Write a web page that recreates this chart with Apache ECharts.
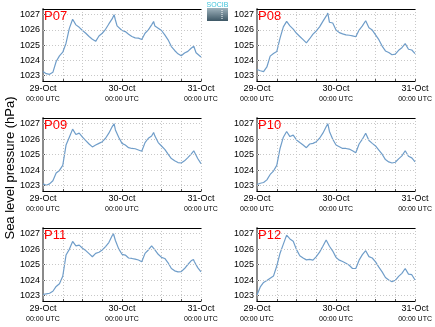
<!DOCTYPE html>
<html><head><meta charset="utf-8">
<script src="https://cdn.jsdelivr.net/npm/echarts@6/dist/echarts.min.js"></script>
<style>html,body{margin:0;padding:0;background:#fff}#c{width:435px;height:327px}</style>
</head><body><div id="c"></div>
<script>
// [hours since 29-Oct 00:00 UTC, sea level pressure hPa]
const P07 = [[0,1023.28],[1,1023.13],[2,1023.09],[3,1023.22],[4,1023.93],[5,1024.3],[6,1024.54],[7,1025.13],[8,1026.1],[9,1026.7],[9.4,1026.78],[10,1026.33],[11,1026.17],[12,1025.96],[13,1025.78],[14,1025.57],[15,1025.39],[16,1025.25],[17,1025.6],[18,1025.78],[19,1026.04],[20,1026.39],[21,1026.72],[21.6,1027.0],[22,1026.65],[22.5,1026.26],[23,1026.35],[24,1025.96],[25,1025.89],[26,1025.72],[27,1025.57],[28,1025.48],[29,1025.46],[30,1025.37],[30.5,1025.33],[31,1025.78],[32,1026.0],[33,1026.33],[33.6,1026.55],[34,1026.25],[35,1026.11],[36,1025.96],[37,1025.67],[38,1025.35],[39,1024.91],[40,1024.65],[41,1024.43],[42,1024.3],[43,1024.48],[44,1024.59],[45,1024.8],[45.8,1024.93],[46,1024.85],[46.5,1024.5],[47,1024.48],[48,1024.22]];
const P08 = [[0,1023.4],[1,1023.32],[2,1023.27],[3,1023.57],[4,1024.28],[5,1024.45],[6,1024.58],[7,1025.46],[8,1026.2],[9,1026.56],[9.4,1026.68],[10,1026.26],[11,1026.05],[12,1025.78],[13,1025.57],[14,1025.36],[15,1025.15],[15.4,1025.08],[16,1025.42],[17,1025.72],[18,1025.93],[19,1026.2],[20,1026.56],[21,1026.9],[21.5,1027.1],[22,1026.5],[23,1026.45],[24,1025.99],[25,1025.82],[26,1025.74],[27,1025.67],[28,1025.65],[29,1025.61],[30,1025.55],[30.5,1025.5],[31,1025.99],[32,1026.26],[33,1026.6],[34,1026.14],[35,1025.99],[36,1025.67],[37,1025.36],[38,1024.94],[39,1024.62],[40,1024.52],[41,1024.37],[42,1024.41],[43,1024.66],[44,1024.83],[45,1025.1],[45.4,1025.22],[46,1024.73],[47,1024.68],[48,1024.45]];
const P09 = [[0,1023.11],[1,1023.02],[2,1023.11],[3,1023.31],[4,1023.81],[5,1023.98],[6,1024.31],[7,1025.62],[8,1026.13],[9,1026.65],[9.2,1026.72],[10,1026.3],[11,1026.39],[12,1026.13],[13,1025.91],[14,1025.69],[15,1025.5],[15.5,1025.4],[16,1025.62],[17,1025.73],[18,1025.84],[19,1026.06],[20,1026.39],[21,1026.8],[21.6,1027.0],[22,1026.6],[23,1026.13],[24,1025.73],[25,1025.62],[26,1025.45],[27,1025.4],[28,1025.38],[29,1025.3],[30,1025.22],[30.5,1025.19],[31,1025.78],[32,1026.06],[33,1026.21],[33.6,1026.43],[34,1026.2],[35,1025.78],[36,1025.56],[37,1025.34],[38,1025.03],[39,1024.75],[40,1024.6],[41,1024.49],[42,1024.46],[43,1024.6],[44,1024.81],[45,1025.03],[45.8,1025.25],[46,1025.15],[47,1024.75],[48,1024.42]];
const P10 = [[0,1023.07],[1,1023.15],[2,1023.2],[3,1023.37],[4,1023.72],[5,1023.94],[6,1024.31],[7,1025.4],[8,1026.13],[9,1026.5],[9.4,1026.6],[10,1026.17],[11,1026.26],[12,1025.95],[13,1025.78],[14,1025.62],[15,1025.45],[15.4,1025.4],[16,1025.69],[17,1025.73],[18,1025.84],[19,1026.06],[20,1026.39],[21,1026.8],[21.5,1027.0],[22,1026.5],[23,1026.0],[24,1025.62],[25,1025.51],[26,1025.4],[27,1025.4],[28,1025.36],[29,1025.25],[30,1025.12],[31,1025.69],[32,1026.0],[33,1026.38],[34,1025.91],[35,1025.73],[36,1025.56],[37,1025.3],[38,1025.03],[39,1024.68],[40,1024.53],[41,1024.46],[42,1024.51],[43,1024.73],[44,1024.92],[45,1025.25],[45.3,1025.34],[46,1024.9],[47,1024.79],[48,1024.53]];
const P11 = [[0,1023.07],[1,1023.11],[2,1023.15],[3,1023.28],[4,1023.59],[5,1023.77],[6,1024.25],[7,1025.62],[8,1025.99],[9,1026.5],[9.2,1026.56],[10,1026.21],[11,1026.26],[12,1026.06],[13,1025.91],[14,1025.71],[15,1025.51],[16,1025.73],[17,1025.8],[18,1025.95],[19,1026.17],[20,1026.43],[21,1026.87],[21.4,1027.0],[22,1026.56],[23,1026.02],[24,1025.67],[25,1025.62],[26,1025.43],[27,1025.4],[28,1025.36],[29,1025.3],[30,1025.19],[31,1025.73],[32,1025.95],[33,1026.21],[33.5,1026.3],[34,1025.95],[35,1025.67],[36,1025.47],[37,1025.4],[38,1025.12],[39,1024.75],[40,1024.6],[41,1024.53],[42,1024.55],[43,1024.75],[44,1025.01],[45,1025.25],[45.7,1025.34],[46,1025.19],[47,1024.81],[48,1024.53]];
const P12 = [[0,1023.04],[1,1023.56],[2,1023.85],[3,1023.97],[4,1024.12],[5,1024.26],[6,1024.91],[7,1025.74],[8,1026.33],[9,1026.91],[9.2,1027.0],[10,1026.66],[11,1026.51],[12,1025.97],[13,1025.58],[14,1025.43],[15,1025.31],[16,1025.34],[17,1025.29],[18,1025.52],[19,1025.81],[20,1026.19],[21,1026.6],[21.3,1026.71],[22,1026.19],[23,1025.88],[24,1025.47],[25,1025.29],[26,1025.2],[27,1025.09],[28,1024.96],[29,1024.75],[30,1024.75],[31,1025.29],[32,1025.65],[33,1025.9],[34,1025.52],[35,1025.43],[36,1025.18],[37,1024.84],[38,1024.53],[39,1024.17],[40,1024.01],[41,1023.9],[42,1023.99],[43,1024.24],[44,1024.44],[45,1024.75],[45.3,1024.8],[46,1024.39],[47,1024.35],[48,1024.01]];

const panelNames = ['P07','P08','P09','P10','P11','P12'];
const panelData = [P07,P08,P09,P10,P11,P12];
const yTicks = [1023,1024,1025,1026,1027];
const xLabelHours = [0,24,48];
const xDayLabels = ['29-Oct','30-Oct','31-Oct'];
const xTimeLabel = '00:00 UTC';
const yTitle = 'Sea level pressure (hPa)';

const FONT = 'Liberation Sans, Arial, sans-serif';
const lefts = [43, 257], widths = [158, 159];
const tops = [9, 118, 228], heights = [72, 73, 73];
const YMIN = 1022.65, YMAX = 1027.37;

const grid = [], xAxis = [], yAxis = [], series = [], title = [];
panelNames.forEach((name, i) => {
  const c = i % 2, r = Math.floor(i / 2);
  grid.push({left: lefts[c], top: tops[r], width: widths[c], height: heights[r], show: false});
  xAxis.push({
    type: 'value', gridIndex: i, min: 0, max: 48, interval: 6,
    axisLine: {show: true, lineStyle: {color: '#000', width: 1}},
    axisTick: {show: true, inside: true, length: 2, lineStyle: {color: '#555'}},
    splitLine: {show: true, lineStyle: {color: '#c8c8c8', type: [1, 2], width: 1}},
    axisLabel: {
      show: true, margin: 3, fontFamily: FONT, color: '#000',
      showMinLabel: true, showMaxLabel: true,
      formatter: v => {
        const k = xLabelHours.indexOf(v);
        return k < 0 ? '' : '{a|' + xDayLabels[k] + '}\n{b|' + xTimeLabel + '}';
      },
      rich: {
        a: {fontSize: 9, lineHeight: 10, fontFamily: FONT, color: '#000'},
        b: {fontSize: 7, lineHeight: 10, fontFamily: FONT, color: '#000'}
      }
    }
  });
  xAxis.push({
    type: 'value', gridIndex: i, min: 0, max: 48, position: 'top',
    axisLine: {show: true, lineStyle: {color: '#000', width: 1}},
    axisTick: {show: false}, axisLabel: {show: false}, splitLine: {show: false}
  });
  yAxis.push({
    type: 'value', gridIndex: i, min: YMIN, max: YMAX,
    axisLine: {show: true, lineStyle: {color: '#000', width: 1}},
    axisTick: {show: true, inside: true, length: 2, customValues: yTicks, lineStyle: {color: '#555'}},
    splitLine: {show: false},
    axisLabel: {show: true, margin: 3, fontSize: 9, fontFamily: FONT, color: '#000', customValues: yTicks,
      formatter: v => String(Math.round(v))}
  });
  yAxis.push({
    type: 'value', gridIndex: i, min: YMIN, max: YMAX, position: 'right',
    axisLine: {show: true, lineStyle: {color: '#8a8a8a', width: 2}},
    axisTick: {show: false}, axisLabel: {show: false}, splitLine: {show: false}
  });
  series.push({
    type: 'line', xAxisIndex: 2 * i, yAxisIndex: 2 * i, data: panelData[i],
    symbol: 'none', smooth: false, z: 3,
    lineStyle: {color: '#6f9dc9', width: 1.2},
    markLine: {
      silent: true, symbol: 'none', label: {show: false}, animation: false,
      lineStyle: {color: '#c8c8c8', type: [1, 2], width: 1},
      data: yTicks.map(v => ({yAxis: v}))
    }
  });
  title.push({
    text: name, left: lefts[c] + 1, top: tops[r] + 1,
    textStyle: {color: '#ff0000', fontSize: 13, fontWeight: 'normal', fontFamily: FONT},
    padding: 0
  });
});

const chart = echarts.init(document.getElementById('c'), null, {renderer: 'canvas'});
chart.setOption({
  animation: false, backgroundColor: '#fff',
  title, grid, xAxis, yAxis, series,
  graphic: [
    {type: 'text', rotation: Math.PI / 2, x: 10, y: 168,
     style: {text: yTitle, fontSize: 13, fontFamily: FONT, fill: '#000', align: 'center', verticalAlign: 'middle'}},
    {type: 'rect', shape: {x: 207, y: 8, width: 21, height: 13},
     style: {fill: new echarts.graphic.LinearGradient(0, 0, 0, 1, [{offset: 0, color: '#9fb3bd'}, {offset: 1, color: '#3d5765'}])}},
    {type: 'line', shape: {x1: 222, y1: 10, x2: 222, y2: 20}, style: {stroke: '#fff', lineWidth: 1, lineDash: [1, 1]}},
    {type: 'text', x: 217.5, y: 5, style: {text: 'SOCIB', fontSize: 7, fontFamily: FONT, fill: '#3fc3da', align: 'center', verticalAlign: 'middle'}}
  ]
});
</script></body></html>
